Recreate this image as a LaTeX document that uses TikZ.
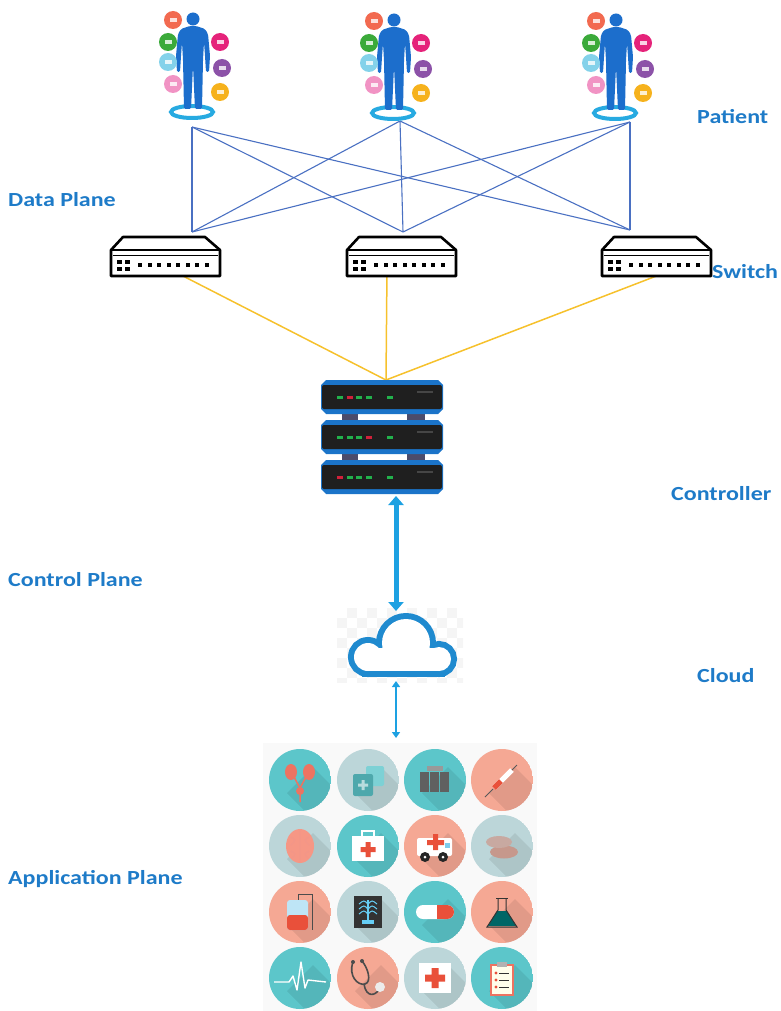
\documentclass[tikz,border=0pt]{standalone}
\usepackage{fontspec}
\setmainfont{Carlito}
\usepackage{graphicx}
\usepackage{tikz}
\usetikzlibrary{positioning,calc,arrows.meta}
\definecolor{lblue}{HTML}{1E7BC8}
\definecolor{netblue}{HTML}{4A70C2}
\definecolor{linkyellow}{HTML}{F6C12C}
\definecolor{bodyblue}{HTML}{1C6ECC}
\definecolor{ringcyan}{HTML}{27AAE1}
\definecolor{srvblue}{HTML}{1B74C9}
\definecolor{ledgreen}{HTML}{22B14C}
\definecolor{ledred}{HTML}{D0213A}
\definecolor{cloudblue}{HTML}{1F8ACF}
\definecolor{arrowcyan}{HTML}{1DA1E2}
\definecolor{appteal}{HTML}{5CC6CA}
\definecolor{appsalmon}{HTML}{F5A894}
\definecolor{appgrey}{HTML}{BCD6D9}
\definecolor{appred}{HTML}{E9503A}
\definecolor{bubA}{HTML}{F26A50}
\definecolor{bubB}{HTML}{3BAA3A}
\definecolor{bubC}{HTML}{84D2EA}
\definecolor{bubD}{HTML}{F193C4}
\definecolor{bubE}{HTML}{E5237A}
\definecolor{bubF}{HTML}{8C52A8}
\definecolor{bubG}{HTML}{F6B21D}

\newcommand{\widetext}[1]{\scalebox{1.2}[1]{#1}}

% patient with health bubbles, origin at the floor ring
\newcommand{\patientfig}[2]{%
\begin{scope}[shift={(#1,#2)}]
  \draw[ringcyan, line width=4pt] (0,0) ellipse [x radius=21, y radius=6];
  \fill[bodyblue] (1,-93) circle (6.5);
  \fill[bodyblue, rounded corners=1.5pt] (-2,-86) -- (-11,-83) -- (-14,-78) -- (-16,-56) -- (-15,-40)
    -- (-12,-40) -- (-11,-56) -- (-10,-70) -- (-9,-52) -- (-8,-3) -- (-1,-3) -- (1,-46) -- (3,-3)
    -- (10,-3) -- (11,-52) -- (12,-70) -- (13,-56) -- (14,-40) -- (17,-40) -- (18,-56) -- (16,-78)
    -- (13,-83) -- (4,-86) -- cycle;
  \foreach \bx/\by/\bc in {-19/-92/bubA, -24/-70/bubB, -24/-50/bubC, -19/-28/bubD,
                           28/-70/bubE, 30/-44/bubF, 28/-20/bubG} {
    \fill[\bc] (\bx,\by) circle (9);
    \fill[white, opacity=0.8] (\bx-3.5,\by-1.5) rectangle (\bx+3.5,\by+2.5);
  }
\end{scope}}

% switch, origin at the left end of the lid
\newcommand{\switchicon}[2]{%
\begin{scope}[shift={(#1,#2)}]
  \draw[line width=2.6pt, line join=round, fill=white] (12,-13) -- (94,-13) -- (109,0) -- (109,26)
    -- (0,26) -- (0,0) -- cycle;
  \draw[line width=2.6pt] (0,0) -- (109,0);
  \draw[line width=0.8pt] (2,5) -- (107,5);
  \foreach \px in {6,14} \foreach \py in {10,17} \fill (\px,\py) rectangle (\px+5,\py+4);
  \foreach \i in {0,...,7} \fill (27+9.5*\i,13) rectangle (31+9.5*\i,17);
\end{scope}}

% one rack unit of the controller
\newcommand{\serverunit}[5]{%
\begin{scope}[shift={(0,#1)}]
  \fill[srvblue] (326,0) -- (438,0) -- (443,5) -- (443,29) -- (438,34) -- (326,34) -- (321,29)
    -- (321,5) -- cycle;
  \fill[black!88, rounded corners=2pt] (322,5) rectangle (442,29);
  \foreach \lx/\lc in {340/#2, 350/#3, 359/#4, 369/#5, 390/ledgreen}
    \fill[\lc] (\lx-3,15.5) rectangle (\lx+3,18.5);
  \fill[gray!55!black] (417,11) rectangle (433,13);
\end{scope}}

% round app tile with long shadow
\newcommand{\appdisc}[4]{%
\begin{scope}[shift={(#1,#2)}]
  \begin{scope}
    \clip (0,0) circle (31);
    \fill[#3] (0,0) circle (31);
    \fill[black, opacity=0.08] (13,-13) -- (-13,13) -- (47,73) -- (73,47) -- cycle;
  \end{scope}
  #4
\end{scope}}

\begin{document}
\begin{tikzpicture}[x=1pt, y=-1pt,
  netlink/.style={netblue, line width=1.1pt},
  ctrllink/.style={linkyellow, line width=1.5pt},
  lbl/.style={font=\fontsize{20}{20}\selectfont\bfseries, text=lblue, anchor=west, inner sep=0pt},
  bigarrow/.style={arrowcyan, line width=5pt, {Triangle[width=15pt,length=9pt]}-{Triangle[width=15pt,length=9pt]}},
  smallarrow/.style={arrowcyan, line width=2.4pt, {Triangle[width=8pt,length=6pt]}-{Triangle[width=8pt,length=6pt]}},
]
\useasboundingbox (0,0) rectangle (780,1011);

% ---------- data plane ----------
\coordinate (p1) at (192,127);
\coordinate (p2) at (400,121);
\coordinate (p3) at (630,122);
\coordinate (s1) at (192,232);
\coordinate (s2) at (403,232);
\coordinate (s3) at (630,230);
\foreach \p in {p1,p2,p3} \foreach \s in {s1,s2,s3} \draw[netlink] (\p) -- (\s);

\patientfig{192}{112}
\patientfig{393}{113}
\patientfig{615}{113}

\coordinate (s1o) at (183,276);
\coordinate (s2o) at (387,268);
\coordinate (s3o) at (659,275);
\coordinate (ctlt) at (386,380);
\foreach \s in {s1o,s2o,s3o} \draw[ctrllink] (\s) -- (ctlt);

\switchicon{111}{250}
\switchicon{347}{250}
\switchicon{602}{250}

% ---------- controller ----------
\foreach \cy in {414,454} {
  \fill[black!70!blue!40!gray] (342,\cy) rectangle (358,\cy+6);
  \fill[black!70!blue!40!gray] (407,\cy) rectangle (425,\cy+6);
}
\serverunit{380}{ledgreen}{ledred}{ledgreen}{ledgreen}
\serverunit{420}{ledgreen}{ledgreen}{ledgreen}{ledred}
\serverunit{460}{ledred}{ledgreen}{ledgreen}{ledgreen}

% ---------- cloud ----------
\begin{scope}
  \clip (337,608) rectangle (463,682);
  \foreach \i in {0,...,12} \foreach \j in {0,...,7} {
    \pgfmathtruncatemacro{\odd}{mod(\i+\j,2)}
    \ifnum\odd=1 \fill[gray!8] (337+10*\i,608+10*\j) rectangle +(10,10); \fi
  }
\end{scope}
\begin{scope}[line width=12pt, cloudblue]
  \filldraw (406,643) circle (24);
  \filldraw (368,657) circle (14);
  \filldraw (439,659) circle (12);
  \filldraw (368,648) rectangle (439,671);
  \fill[white] (406,643) circle (24);
  \fill[white] (368,657) circle (14);
  \fill[white] (439,659) circle (12);
  \fill[white] (368,648) rectangle (439,671);
\end{scope}

\coordinate (ctlb) at (396,496);
\coordinate (cldt) at (396,611);
\coordinate (cldb) at (396,681);
\coordinate (appt) at (396,738);
\draw[bigarrow] (ctlb) -- (cldt);
\draw[smallarrow] (cldb) -- (appt);

% ---------- application plane ----------
\fill[gray!5] (263,743) rectangle (537,1011);
\appdisc{300}{780}{appteal}{
  \fill[appred!80] (-9,-8) ellipse [x radius=6, y radius=8] (9,-8) ellipse [x radius=6, y radius=8];
  \draw[appred!80, line width=1.5pt] (-6,-3) -- (0,8) -- (6,-3) (0,10) -- (0,22);
  \fill[appred!80] (0,11) circle (4);}
\appdisc{368}{780}{appgrey}{
  \fill[appteal!80!white, rounded corners=2pt] (-2,-14) rectangle (16,6);
  \fill[appteal!85!black, rounded corners=2pt] (-15,-6) rectangle (5,16);
  \fill[white, opacity=0.6] (-6.5,0) rectangle (-3.5,10) (-10,3.5) rectangle (0,6.5);}
\appdisc{435}{780}{appteal}{
  \fill[gray!80] (-8,-14) rectangle (8,-9);
  \foreach \bx in {-15,-5,5} \fill[gray!75!black] (\bx,-8) rectangle (\bx+9,12);}
\appdisc{502}{780}{appsalmon}{
  \draw[white, line width=5pt] (-8,8) -- (10,-10);
  \draw[appred, line width=5pt] (-8,8) -- (-1,1);
  \draw[gray!70!black, line width=1pt] (-9,9) -- (-17,17) (10,-10) -- (15,-15);}
\appdisc{300}{846}{appgrey}{
  \fill[appsalmon!90!red] (0,0) ellipse [x radius=14, y radius=17];
  \draw[appred!60, line width=0.8pt] (0,-16) -- (0,16) (-9,-9) .. controls (-4,-6) .. (-9,-1)
    (-9,5) .. controls (-4,8) .. (-8,12) (9,-9) .. controls (4,-6) .. (9,-1) (9,5) .. controls (4,8) .. (8,12);}
\appdisc{368}{846}{appteal}{
  \draw[white, line width=1.8pt] (-6,-10) -- (-6,-15) -- (6,-15) -- (6,-10);
  \fill[white] (-16,-10) rectangle (16,15);
  \fill[appred] (-2.5,-4) rectangle (2.5,11) (-7.5,1) rectangle (7.5,6);}
\appdisc{435}{846}{appsalmon}{
  \fill[white, rounded corners=2pt] (-18,-8) rectangle (17,10);
  \fill[ringcyan!60] (10,-3) rectangle (15,2);
  \fill[appred] (-2,-12) rectangle (3,4) (-8,-6) rectangle (9,-1);
  \fill[black!85] (-10,11) circle (5) (8,11) circle (5);
  \fill[white] (-10,11) circle (1.5) (8,11) circle (1.5);}
\appdisc{502}{846}{appgrey}{
  \fill[appsalmon!60!gray] (2,6) ellipse [x radius=14, y radius=6.5];
  \fill[appsalmon!50!gray!80!white] (-3,-4) ellipse [x radius=13, y radius=6];}
\appdisc{300}{912}{appsalmon}{
  \draw[gray!60!black, line width=0.9pt] (-2,-12) -- (-2,-18) -- (12,-18) -- (12,18);
  \fill[ringcyan!30, rounded corners=3pt] (-13,-12) rectangle (8,18);
  \fill[appred, rounded corners=3pt] (-13,3) rectangle (8,18);}
\appdisc{368}{912}{appgrey}{
  \fill[gray!40!black] (-14,-16) rectangle (14,16);
  \draw[cyan!60!white, line width=1.4pt] (0,-12) -- (0,12);
  \foreach \yy in {-8,-3,2}
    \draw[cyan!60!white, line width=1pt] (-9,\yy) .. controls (-4,\yy-4) .. (0,\yy) .. controls (4,\yy-4) .. (9,\yy);
  \fill[cyan!60!white] (-6,8) rectangle (6,12);}
\appdisc{435}{912}{appteal}{
  \fill[white, rounded corners=7pt] (-19,-7) rectangle (19,7);
  \fill[appred, rounded corners=7pt] (2,-7) rectangle (19,7);
  \fill[appred] (2,-7) rectangle (9,7);}
\appdisc{502}{912}{appsalmon}{
  \fill[teal!80!black] (-14,14) -- (-5,-1) -- (5,-1) -- (14,14) -- cycle;
  \draw[gray!40!black, line width=1pt] (-4,-14) -- (-4,-2) -- (-15,15) -- (15,15) -- (4,-2) -- (4,-14);
  \draw[gray!40!black, line width=1pt] (-6,-14) -- (6,-14);}
\appdisc{300}{978}{appteal}{
  \draw[white, line width=1.4pt, line join=round] (-26,4) -- (-11,4) -- (-7,-2) -- (-3,12) -- (1,-16)
    -- (5,10) -- (8,2) -- (26,4);}
\appdisc{368}{978}{appsalmon}{
  \draw[gray!60!black, line width=1.6pt] (-15,-16) .. controls (-20,-2) and (-10,8) .. (-3,6)
    .. controls (4,4) and (0,-10) .. (-6,-17);
  \draw[gray!60!black, line width=1.6pt] (-4,6) .. controls (-2,20) and (8,18) .. (11,11);
  \fill[gray!15] (12,9) circle (5);
  \fill[gray!60!black] (-15,-16) circle (2) (-6,-17) circle (2);}
\appdisc{435}{978}{appgrey}{
  \fill[white] (-16,-15) rectangle (16,15);
  \fill[appred] (-3.5,-10) rectangle (3.5,10) (-10,-3.5) rectangle (10,3.5);}
\appdisc{502}{978}{appteal}{
  \filldraw[fill=yellow!8!white, draw=appred!80, line width=1.4pt] (-11,-13) rectangle (11,17);
  \fill[gray!60] (-5,-16) rectangle (5,-11);
  \foreach \yy in {-5,2,9} {
    \fill[appred] (-6,\yy) circle (1.6);
    \draw[gray!40!black, line width=1pt] (-3,\yy) -- (7,\yy);
  }}

% ---------- labels ----------
\node[lbl] (patientlbl) at (697,117) {\widetext{Patient}};
\node[lbl] (datalbl) at (8,200) {\widetext{Data Plane}};
\node[lbl] (switchlbl) at (712,272) {\widetext{Switch}};
\node[lbl] (ctrllbl) at (671,494) {\widetext{Controller}};
\node[lbl] (ctrlplanelbl) at (8,580) {\widetext{Control Plane}};
\node[lbl] (cloudlbl) at (697,676) {\widetext{Cloud}};
\node[lbl] (applbl) at (8,879) {\widetext{Application Plane}};
\end{tikzpicture}
\end{document}
